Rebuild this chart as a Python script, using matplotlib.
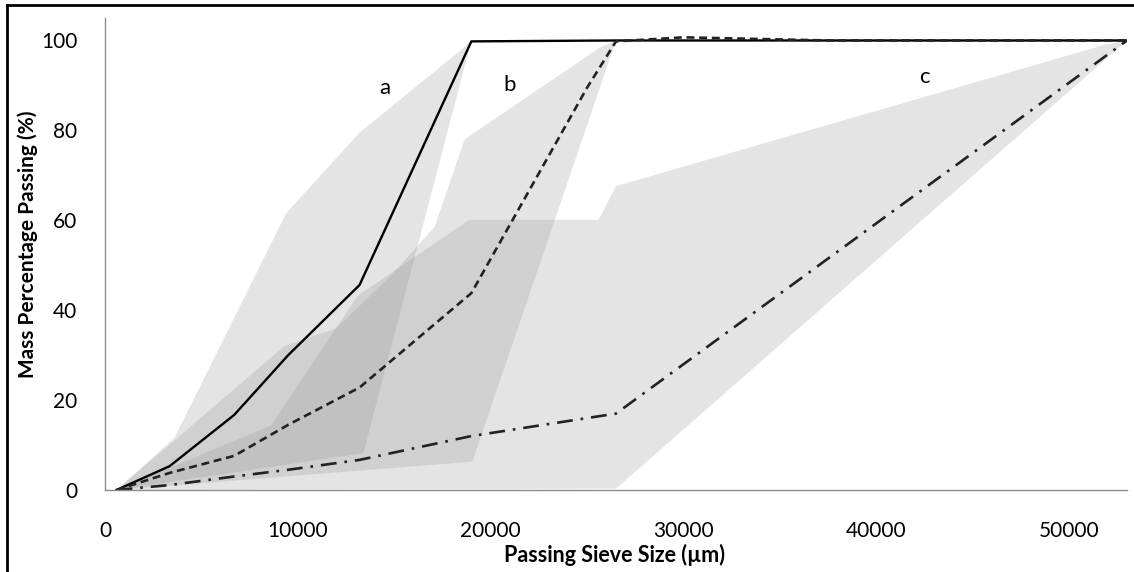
import matplotlib.pyplot as plt
from matplotlib.lines import Line2D

# mean grading curves (x = sieve size in um, y = % passing)
x_a = [600, 3350, 6700, 9500, 13200, 19000, 26500, 37500, 53000]
y_a = [0, 5.3, 16.7, 30, 45.6, 99.8, 100, 100, 100]

x_b = [600, 3350, 6700, 9500, 13200, 19000, 25000, 26500, 30000, 37500, 53000]
y_b = [0, 3.8, 7.6, 14.5, 22.8, 43.8, 89.5, 99.8, 100.7, 100, 100]

x_c = [600, 3350, 6700, 9500, 13200, 19000, 26500, 37500, 53000]
y_c = [0, 1.1, 3.0, 4.5, 6.7, 12.0, 17, 51.5, 100]

# grading envelopes (upper edge then lower edge, as closed outlines)
env_a_x = [600, 3600, 9400, 13200, 18700, 19000, 13400, 600]
env_a_y = [0, 11.6, 61.6, 79.5, 98.7, 100, 8.2, 0]

env_b_x = [600, 3600, 9300, 12000, 14900, 17100, 18650, 25650, 26500, 19050, 600]
env_b_y = [0, 11, 32, 36, 48, 58.6, 78, 98.4, 100, 6.3, 0]

env_c_x = [600, 8600, 13100, 18900, 25600, 26500, 51900, 53000, 26500, 600]
env_c_y = [0, 14.3, 43.2, 60.1, 60.1, 67.6, 99.1, 100, 0.3, 0]

labels = ['a', 'b', 'c']
label_x = [14500, 21000, 42500]
label_y = [89.5, 90.2, 91.8]

plt.rcParams['font.family'] = ['Lato', 'DejaVu Sans']

fig = plt.figure(figsize=(11.34, 5.72), dpi=100)
ax = fig.add_axes([105 / 1134, 1 - 490 / 572, 1022 / 1134, 472 / 572])

for ex, ey in [(env_a_x, env_a_y), (env_b_x, env_b_y), (env_c_x, env_c_y)]:
    ax.fill(ex, ey, color='#999999', alpha=0.26, lw=0)

ax.plot(x_a, y_a, color='black', lw=1.7, ls='-')
ax.plot(x_b, y_b, color='#222222', lw=1.9, ls=(0, (3, 1.8)))
ax.plot(x_c, y_c, color='#222222', lw=1.9, ls=(0, (6, 3, 1, 3)))

for t, lx, ly in zip(labels, label_x, label_y):
    ax.text(lx, ly, t, fontsize=16, ha='center', va='center')

ax.set_xlim(0, 53000)
ax.set_ylim(0, 105)
ax.set_xticks([0, 10000, 20000, 30000, 40000, 50000])
ax.set_yticks([0, 20, 40, 60, 80, 100])
ax.tick_params(length=0, labelsize=15)
ax.tick_params(axis='x', pad=22)
ax.tick_params(axis='y', pad=20)

for s in ['top', 'right']:
    ax.spines[s].set_visible(False)
for s in ['left', 'bottom']:
    ax.spines[s].set_color('#8c8c8c')
    ax.spines[s].set_linewidth(1)

ax.set_xlabel('Passing Sieve Size (µm)', fontsize=15.5, fontweight='bold')
ax.set_ylabel('Mass Percentage Passing (%)', fontsize=15, fontweight='bold')
ax.xaxis.set_label_coords(0.499, -0.115)
ax.yaxis.set_label_coords(-0.066, 0.52)

# outer frame lines
fig.add_artist(Line2D([7 / 1134, 7 / 1134], [0, 1 - 5 / 572], color='black', lw=2))
fig.add_artist(Line2D([7 / 1134, 1], [1 - 5 / 572, 1 - 5 / 572], color='black', lw=2))

fig.savefig('out.png', dpi=100)
